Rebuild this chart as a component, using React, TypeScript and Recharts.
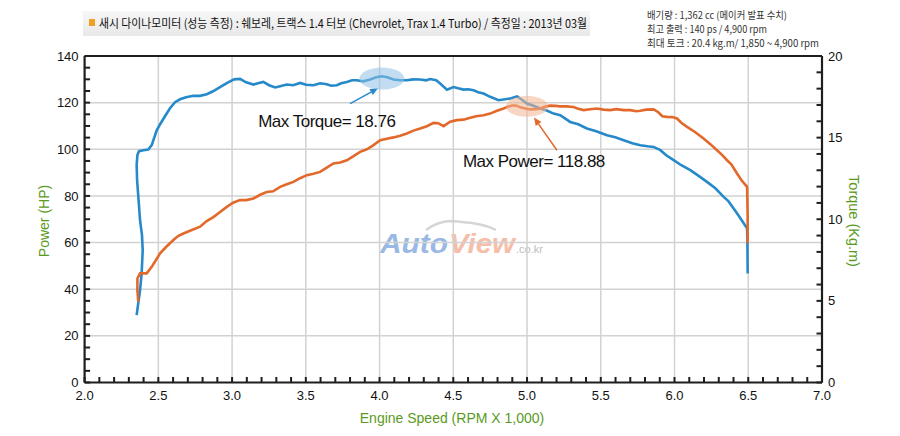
import React from 'react';
import {
  LineChart,
  Line,
  XAxis,
  YAxis,
  CartesianGrid,
  ReferenceLine,
  ReferenceDot,
} from 'recharts';

// ---------- Data ----------
const torqueRpm = [
  2.353, 2.364, 2.376, 2.387, 2.394, 2.389, 2.376, 2.366, 2.356, 2.353, 2.358, 2.369, 2.398, 2.432,
  2.455, 2.489, 2.512, 2.545, 2.579, 2.613, 2.647, 2.688, 2.737, 2.783, 2.828, 2.871, 2.918, 2.973,
  3.014, 3.054, 3.095, 3.145, 3.176, 3.212, 3.251, 3.292, 3.326, 3.371, 3.414, 3.462, 3.502, 3.552,
  3.597, 3.642, 3.672, 3.71, 3.74, 3.778, 3.814, 3.846, 3.889, 3.936, 3.977, 4.016, 4.052, 4.094,
  4.14, 4.185, 4.228, 4.275, 4.316, 4.343, 4.384, 4.411, 4.457, 4.501, 4.533, 4.569, 4.601, 4.637,
  4.669, 4.705, 4.75, 4.807, 4.852, 4.893, 4.932, 4.961, 4.999, 5.035, 5.09, 5.13, 5.18, 5.225,
  5.293, 5.347, 5.406, 5.469, 5.542, 5.598, 5.655, 5.714, 5.768, 5.816, 5.858, 5.904, 5.944, 5.994,
  6.046, 6.107, 6.161, 6.22, 6.277, 6.333, 6.365, 6.401, 6.433, 6.46, 6.492, 6.494, 6.496,
];
const torqueKgm = [
  4.13, 4.87, 5.66, 6.7, 8.11, 9.03, 9.94, 11.17, 12.39, 13.31, 13.93, 14.17, 14.23, 14.27,
  14.54, 15.45, 15.82, 16.31, 16.8, 17.17, 17.35, 17.47, 17.56, 17.56, 17.66, 17.84, 18.1, 18.39,
  18.57, 18.6, 18.39, 18.25, 18.33, 18.41, 18.21, 18.07, 18.15, 18.25, 18.21, 18.35, 18.24, 18.21,
  18.33, 18.27, 18.18, 18.21, 18.33, 18.41, 18.51, 18.51, 18.45, 18.56, 18.7, 18.76, 18.7, 18.56,
  18.51, 18.51, 18.57, 18.56, 18.51, 18.59, 18.51, 18.31, 17.94, 18.1, 18.02, 17.94, 17.96, 17.9,
  17.78, 17.7, 17.5, 17.29, 17.35, 17.41, 17.53, 17.35, 17.09, 16.98, 16.78, 16.68, 16.47, 16.37,
  15.96, 15.82, 15.56, 15.39, 15.15, 15.02, 14.84, 14.65, 14.53, 14.47, 14.43, 14.23, 13.92, 13.62,
  13.31, 13.01, 12.67, 12.29, 11.9, 11.37, 11.11, 10.66, 10.25, 9.88, 9.44, 8.72, 6.68,
];

const powerRpm = [
  2.364, 2.358, 2.358, 2.376, 2.421, 2.455, 2.484, 2.512, 2.552, 2.602, 2.634, 2.67, 2.715, 2.783,
  2.828, 2.873, 2.919, 2.964, 3.007, 3.054, 3.095, 3.145, 3.19, 3.235, 3.278, 3.326, 3.371, 3.416,
  3.461, 3.507, 3.552, 3.597, 3.642, 3.687, 3.733, 3.778, 3.821, 3.868, 3.914, 3.959, 4.004, 4.05,
  4.094, 4.14, 4.185, 4.23, 4.275, 4.321, 4.366, 4.398, 4.434, 4.479, 4.524, 4.569, 4.615, 4.655,
  4.705, 4.75, 4.796, 4.841, 4.873, 4.908, 4.934, 4.954, 4.988, 5.022, 5.056, 5.09, 5.124, 5.158,
  5.192, 5.226, 5.266, 5.315, 5.347, 5.383, 5.428, 5.474, 5.517, 5.564, 5.605, 5.655, 5.7, 5.741,
  5.768, 5.808, 5.858, 5.89, 5.917, 5.949, 5.985, 6.017, 6.046, 6.085, 6.141, 6.197, 6.243, 6.288,
  6.324, 6.356, 6.385, 6.424, 6.453, 6.492, 6.496, 6.496,
];
const powerHp = [
  34.6, 39.6, 44.6, 46.8, 46.8, 49.6, 52.5, 55.4, 58.1, 61.1, 62.8, 63.9, 65.1, 66.8,
  69.2, 70.9, 73.1, 75.3, 77.1, 78.2, 78.2, 78.9, 80.5, 81.7, 82.0, 83.9, 85.0, 86.0,
  87.6, 88.9, 89.5, 90.3, 92.1, 93.9, 94.3, 95.3, 97.0, 98.9, 100.0, 101.8, 103.9, 104.5,
  105.1, 105.8, 106.8, 108.0, 108.9, 109.9, 111.3, 111.2, 109.9, 111.8, 112.5, 112.7, 113.5, 114.2,
  114.6, 115.3, 116.5, 117.5, 118.3, 118.88, 118.6, 118.0, 117.5, 117.1, 117.2, 117.5, 118.3, 118.7,
  118.6, 118.4, 118.4, 118.1, 117.4, 116.8, 117.2, 117.5, 117.0, 116.8, 117.2, 116.8, 116.8, 116.3,
  116.5, 117.0, 117.1, 115.9, 114.2, 113.9, 113.8, 113.2, 111.4, 109.6, 107.3, 104.6, 102.2, 99.6,
  97.5, 95.3, 93.6, 89.6, 86.8, 83.9, 71.8, 59.8,
];

const xTicks = [
  2.0, 2.1, 2.2, 2.3, 2.4, 2.5, 2.6, 2.7, 2.8, 2.9, 3.0, 3.1, 3.2, 3.3, 3.4, 3.5, 3.6, 3.7, 3.8, 3.9,
  4.0, 4.1, 4.2, 4.3, 4.4, 4.5, 4.6, 4.7, 4.8, 4.9, 5.0, 5.1, 5.2, 5.3, 5.4, 5.5, 5.6, 5.7, 5.8, 5.9,
  6.0, 6.1, 6.2, 6.3, 6.4, 6.5, 6.6, 6.7, 6.8, 6.9, 7.0,
];
const xMajorTicks = [2.0, 2.5, 3.0, 3.5, 4.0, 4.5, 5.0, 5.5, 6.0, 6.5, 7.0];
const xGridValues = [2.5, 3.0, 3.5, 4.0, 4.5, 5.0, 5.5, 6.0, 6.5];

const powerTicks = [
  0, 5, 10, 15, 20, 25, 30, 35, 40, 45, 50, 55, 60, 65, 70, 75, 80, 85, 90, 95, 100, 105, 110, 115,
  120, 125, 130, 135, 140,
];
const powerMajorTicks = [0, 20, 40, 60, 80, 100, 120, 140];
const powerGridValues = [20, 40, 60, 80, 100, 120];

const torqueTicks = [0, 1, 2, 3, 4, 5, 6, 7, 8, 9, 10, 11, 12, 13, 14, 15, 16, 17, 18, 19, 20];
const torqueMajorTicks = [0, 5, 10, 15, 20];

const maxTorque = { rpm: 4.016, power: 130.3, value: '18.76' };
const maxPower = { rpm: 4.999, power: 118.4, value: '118.88' };
const torqueArrow = [
  { x: 3.8, y: 119.6 },
  { x: 3.99, y: 126.2 },
];
const powerArrow = [
  { x: 5.203, y: 99.6 },
  { x: 5.047, y: 113.6 },
];
const torqueLabel = { rpm: 3.177, power: 109.4, text: 'Max Torque= 18.76' };
const powerLabel = { rpm: 4.565, power: 92.3, text: 'Max Power= 118.88' };

const headerTitle =
  '새시 다이나모미터 (성능 측정)  :  쉐보레, 트랙스 1.4 터보 (Chevrolet, Trax 1.4 Turbo) / 측정일 : 2013년 03월';
const specLines = [
  '배기량 : 1,362 cc  (메이커 발표 수치)',
  '최고 출력 : 140 ps / 4,900 rpm',
  '최대 토크 : 20.4  kg.m/ 1,850 ~ 4,900 rpm',
];

const torqueData = torqueRpm.map((r, i) => ({ rpm: r, torque: torqueKgm[i] }));
const powerData = powerRpm.map((r, i) => ({ rpm: r, power: powerHp[i] }));

// ---------- Styles ----------
const BLUE = '#2689c9';
const ORANGE = '#e2692a';
const GREEN = '#5a9a1e';
const AXIS = '#1e1e1e';
const FONT = '"Liberation Sans", Arial, sans-serif';
const KFONT = '"Noto Sans CJK KR", "Noto Sans", sans-serif';
const GAP = 6; // tickMargin: label anchor sits GAP px outside the axis line
const TICK_LEN = 5.5; // inward tick length
const TICK_W = 2;

const near = (v: number, list: number[]) => list.some((m) => Math.abs(m - v) < 1e-6);

const LeftTick = (props: any) => {
  const { x, y, payload } = props;
  const v = payload.value;
  const ax = x + GAP;
  return (
    <g>
      <line x1={ax} x2={ax + TICK_LEN} y1={y} y2={y} stroke={AXIS} strokeWidth={TICK_W} />
      {near(v, powerMajorTicks) && (
        <text x={x} y={y} dy={4.6} textAnchor="end" fontSize={13} fontFamily={FONT} fill="#111">
          {v}
        </text>
      )}
    </g>
  );
};

const RightTick = (props: any) => {
  const { x, y, payload } = props;
  const v = payload.value;
  const ax = x - GAP;
  return (
    <g>
      <line x1={ax} x2={ax - TICK_LEN} y1={y} y2={y} stroke={AXIS} strokeWidth={TICK_W} />
      {near(v, torqueMajorTicks) && (
        <text x={x} y={y} dy={4.6} textAnchor="start" fontSize={13} fontFamily={FONT} fill="#111">
          {v}
        </text>
      )}
    </g>
  );
};

const BottomTick = (props: any) => {
  const { x, y, payload } = props;
  const v = payload.value;
  const ay = y - GAP;
  return (
    <g>
      <line x1={x} x2={x} y1={ay} y2={ay - TICK_LEN} stroke={AXIS} strokeWidth={TICK_W} />
      {near(v, xMajorTicks) && (
        <text x={x} y={y} dy={11.5} textAnchor="middle" fontSize={13} fontFamily={FONT} fill="#111">
          {v.toFixed(1)}
        </text>
      )}
    </g>
  );
};

const makeArrow = (color: string) => (p: any) => {
  const { x1, y1, x2, y2 } = p;
  const dx = x2 - x1;
  const dy = y2 - y1;
  const len = Math.sqrt(dx * dx + dy * dy) || 1;
  const ux = dx / len;
  const uy = dy / len;
  const hl = 8;
  const hw = 3.5;
  const bx = x2 - ux * hl;
  const by = y2 - uy * hl;
  const pts = `${x2},${y2} ${bx - uy * hw},${by + ux * hw} ${bx + uy * hw},${by - ux * hw}`;
  return (
    <g>
      <line x1={x1} y1={y1} x2={bx} y2={by} stroke={color} strokeWidth={1.5} />
      <polygon points={pts} fill={color} />
    </g>
  );
};

const makeEllipse = (fill: string, rx: number, ry: number) => (p: any) => (
  <ellipse cx={p.cx} cy={p.cy} rx={rx} ry={ry} fill={fill} fillOpacity={0.55} />
);

const makeLabel = (text: string) => (p: any) => (
  <text
    x={p.cx}
    y={p.cy}
    fontSize={17}
    fontFamily={FONT}
    fill="#111"
    letterSpacing={-0.5}
    textAnchor="start"
  >
    {text}
  </text>
);

const axisLineStyle = { stroke: AXIS, strokeWidth: 2.2 };

export default function App() {
  return (
    <div
      style={{
        position: 'absolute',
        left: 0,
        top: 0,
        width: 900,
        height: 436,
        background: '#fff',
        overflow: 'hidden',
      }}
    >
      {/* header + watermark + axis titles */}
      <svg width={900} height={436} style={{ position: 'absolute', left: 0, top: 0 }}>
        <defs>
          <linearGradient id="band" x1="0" y1="0" x2="0" y2="1">
            <stop offset="0" stopColor="#f7f7f7" />
            <stop offset="1" stopColor="#e8e8e8" />
          </linearGradient>
        </defs>
        <rect x={83} y={11} width={507} height={25} fill="url(#band)" />
        <rect x={89} y={19} width={6} height={7} fill="#f0a020" />
        <text
          x={99}
          y={27.5}
          fontSize={12}
          fontFamily={KFONT}
          fill="#111"
          textLength={488}
          lengthAdjust="spacingAndGlyphs"
        >
          {headerTitle}
        </text>
        {specLines.map((s, i) => (
          <text
            key={i}
            x={647}
            y={19 + i * 13.8}
            fontSize={10}
            fontFamily={KFONT}
            fill="#333"
            textLength={[140, 120, 172][i]}
            lengthAdjust="spacingAndGlyphs"
          >
            {s}
          </text>
        ))}
        <g opacity={0.7}>
          <path
            d="M 426 230 Q 438 221 452 221 L 472 223 Q 486 225 496 230"
            fill="none"
            stroke="#c4c4c4"
            strokeWidth={2.5}
          />
          <text
            x={380}
            y={253}
            fontSize={27}
            fontWeight="bold"
            fontStyle="italic"
            fontFamily={FONT}
            fill="#6f9bd8"
            textLength={68}
            lengthAdjust="spacingAndGlyphs"
          >
            Auto
          </text>
          <text
            x={449}
            y={253}
            fontSize={27}
            fontWeight="bold"
            fontStyle="italic"
            fontFamily={FONT}
            fill="#f2a386"
            textLength={66}
            lengthAdjust="spacingAndGlyphs"
          >
            View
          </text>
          <text x={516} y={253} fontSize={11} fontFamily={FONT} fill="#a0a0a0">
            .co.kr
          </text>
        </g>
        <text
          x={0}
          y={0}
          transform="translate(49 221) rotate(-90)"
          textAnchor="middle"
          fontSize={14}
          fontFamily={FONT}
          fill={GREEN}
        >
          Power (HP)
        </text>
        <text
          x={0}
          y={0}
          transform="translate(849 221) rotate(90)"
          textAnchor="middle"
          fontSize={14.5}
          fontFamily={FONT}
          fill={GREEN}
        >
          Torque (Kg.m)
        </text>
        <text x={452} y={423} textAnchor="middle" fontSize={14} fontFamily={FONT} fill={GREEN}>
          Engine Speed (RPM X 1,000)
        </text>
      </svg>

      <div style={{ position: 'absolute', left: 0, top: 0 }}>
        <LineChart width={900} height={436} margin={{ top: 56, right: 18, bottom: 23.5, left: 24.6 }}>
          <CartesianGrid
            yAxisId="left"
            horizontalValues={powerGridValues}
            verticalValues={xGridValues}
            stroke="#d2d2d2"
            strokeWidth={1.5}
          />
          <XAxis
            dataKey="rpm"
            type="number"
            domain={[2, 7]}
            ticks={xTicks}
            interval={0}
            height={30}
            tickSize={0}
            tickMargin={GAP}
            tickLine={false}
            axisLine={axisLineStyle}
            tick={<BottomTick />}
            allowDataOverflow
          />
          <YAxis
            yAxisId="left"
            type="number"
            domain={[0, 140]}
            ticks={powerTicks}
            interval={0}
            width={60}
            tickSize={0}
            tickMargin={GAP}
            tickLine={false}
            axisLine={axisLineStyle}
            tick={<LeftTick />}
            allowDataOverflow
          />
          <YAxis
            yAxisId="right"
            orientation="right"
            type="number"
            domain={[0, 20]}
            ticks={torqueTicks}
            interval={0}
            width={60}
            tickSize={0}
            tickMargin={GAP}
            tickLine={false}
            axisLine={axisLineStyle}
            tick={<RightTick />}
            allowDataOverflow
          />
          <ReferenceLine yAxisId="left" y={140} stroke={AXIS} strokeWidth={2.2} ifOverflow="visible" />
          <ReferenceDot
            yAxisId="left"
            x={maxTorque.rpm}
            y={maxTorque.power}
            shape={makeEllipse('#8fc1e8', 22.5, 11)}
          />
          <ReferenceDot
            yAxisId="left"
            x={maxPower.rpm}
            y={maxPower.power}
            shape={makeEllipse('#f3b493', 21, 10.5)}
          />
          <Line
            yAxisId="right"
            data={torqueData}
            dataKey="torque"
            type="linear"
            stroke={BLUE}
            strokeWidth={2.6}
            dot={false}
            activeDot={false}
            isAnimationActive={false}
          />
          <Line
            yAxisId="left"
            data={powerData}
            dataKey="power"
            type="linear"
            stroke={ORANGE}
            strokeWidth={2.6}
            dot={false}
            activeDot={false}
            isAnimationActive={false}
          />
          <ReferenceLine
            yAxisId="left"
            segment={torqueArrow}
            shape={makeArrow(BLUE)}
            ifOverflow="visible"
          />
          <ReferenceLine
            yAxisId="left"
            segment={powerArrow}
            shape={makeArrow(ORANGE)}
            ifOverflow="visible"
          />
          <ReferenceDot
            yAxisId="left"
            x={torqueLabel.rpm}
            y={torqueLabel.power}
            shape={makeLabel(torqueLabel.text)}
          />
          <ReferenceDot
            yAxisId="left"
            x={powerLabel.rpm}
            y={powerLabel.power}
            shape={makeLabel(powerLabel.text)}
          />
        </LineChart>
      </div>
    </div>
  );
}
